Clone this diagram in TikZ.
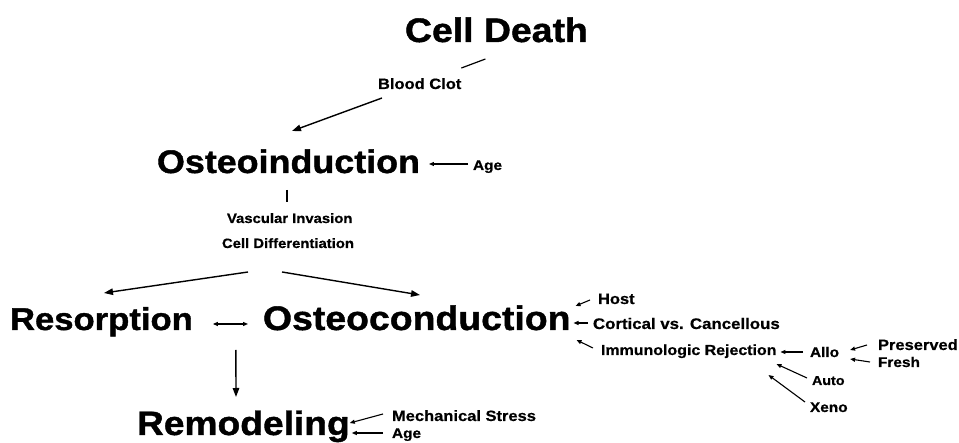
\documentclass[tikz,border=0pt]{standalone}
\usepackage{fontspec}
\newfontfamily\hb{Liberation Sans}[FakeStretch=1.1,FakeBold=1.2]
\newfontfamily\hs{Liberation Sans}[FakeStretch=1.1,FakeBold=0.6]
\usetikzlibrary{arrows.meta,calc}
\begin{document}
\begin{tikzpicture}[x=1pt,y=-1pt,
  lbl/.style={inner sep=0pt, outer sep=0pt, anchor=base west, font=\hb\bfseries\fontsize{#1}{#1}\selectfont},
  sml/.style={inner sep=0pt, outer sep=0pt, anchor=base west, font=\hs\bfseries\fontsize{#1}{#1}\selectfont},
  conn/.style={line width=1.2pt},
  bigarr/.style={line width=1.4pt, -{Triangle[length=9pt,width=6.5pt]}},
  smarr/.style={line width=1.1pt, -{Triangle[length=5pt,width=4pt]}},
  dblarr/.style={line width=1.1pt, {Triangle[length=5pt,width=4pt]}-{Triangle[length=5pt,width=4pt]}}
]
\useasboundingbox (0,0) rectangle (959,443);
% labels
\node[lbl=34]   (cd)    at (405,42)  {Cell Death};
\node[sml=15]   (bc)    at (378,89)  {Blood Clot};
\node[lbl=32.6] (oi)    at (157,173) {Osteoinduction};
\node[sml=14]   (age1)  at (473,170) {Age};
\node[sml=13.5] (vi)    at (227,223) {Vascular Invasion};
\node[sml=13.5] (cdiff) at (222,248) {Cell Differentiation};
\node[lbl=31.5] (res)   at (10,330)  {Resorption};
\node[lbl=34]   (oc)    at (263,330) {Osteoconduction};
\node[sml=15]   (host)  at (598,304) {Host};
\node[sml=15.3] (cort)  at (593,329) {Cortical vs. Cancellous};
\node[sml=14.5] (imm)   at (601,355) {Immunologic Rejection};
\node[sml=14]   (allo)  at (810,357) {Allo};
\node[sml=15]   (pres)  at (878,350) {Preserved};
\node[sml=14]   (fresh) at (878,367) {Fresh};
\node[sml=13]   (auto)  at (812,385) {Auto};
\node[sml=14]   (xeno)  at (810,412) {Xeno};
\node[lbl=33.8] (rem)   at (137,435) {Remodeling};
\node[sml=15]   (mech)  at (392,421) {Mechanical Stress};
\node[sml=14]   (age2)  at (392,438) {Age};
% connectors
\draw[conn]   ($(bc.base east)+(24,-30)$) -- ($(bc.base east)+(0,-21)$);
\draw[bigarr] ($(bc.base west)+(4,9)$) -- ($(oi.base west)+(135,-42)$);
\draw[smarr]  ($(age1.base west)+(-5,-6)$) -- ($(oi.base east)+(9,-9)$);
\draw[conn]   ($(oi.base west)+(130,17)$) -- ($(vi.base west)+(60,-21)$);
\draw[bigarr] ($(cdiff.base west)+(26,24)$) -- ($(res.base west)+(94,-37)$);
\draw[bigarr] ($(cdiff.base west)+(60,24)$) -- ($(oc.base west)+(157,-35)$);
\draw[dblarr] ($(res.base east)+(20,-6)$) -- ($(oc.base west)+(-15,-6)$);
\draw[bigarr] ($(res.base east)+(43,20)$) -- ($(rem.base west)+(99,-38)$);
\draw[smarr]  ($(host.base west)+(-8,-4)$) -- ($(oc.base east)+(5,-24)$);
\draw[smarr]  ($(cort.base west)+(-5,-6)$) -- ($(oc.base east)+(3,-7)$);
\draw[smarr]  ($(imm.base west)+(-8,-7)$) -- ($(oc.base east)+(6,10)$);
\draw[smarr]  ($(allo.base west)+(-7,-5)$) -- ($(imm.base east)+(4,-3)$);
\draw[smarr]  ($(pres.base west)+(-11,-5)$) -- ($(allo.base east)+(11,-7)$);
\draw[smarr]  ($(fresh.base west)+(-8,-5)$) -- ($(allo.base east)+(11,2)$);
\draw[smarr]  ($(auto.base west)+(-5,-7)$) -- ($(imm.base east)+(0,9)$);
\draw[smarr]  ($(xeno.base west)+(-5,-10)$) -- ($(imm.base east)+(-8,20)$);
\draw[smarr]  ($(mech.base west)+(-9,-7)$) -- ($(rem.base east)+(0,-12)$);
\draw[smarr]  ($(age2.base west)+(-9,-5)$) -- ($(rem.base east)+(2,-2)$);
\end{tikzpicture}
\end{document}
